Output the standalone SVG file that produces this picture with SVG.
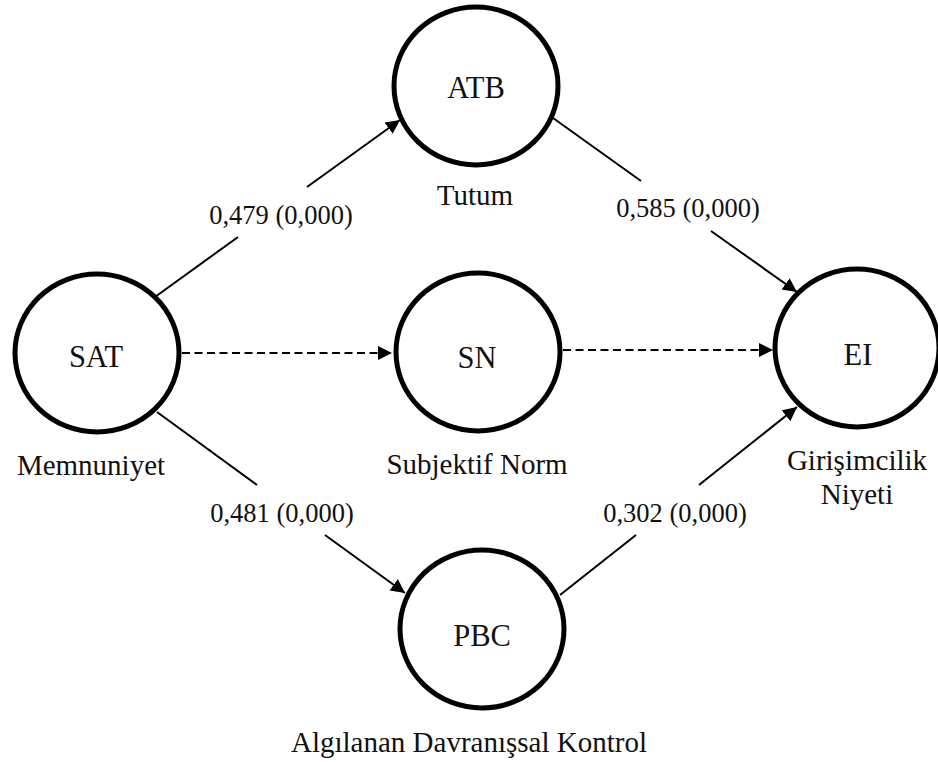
<svg xmlns="http://www.w3.org/2000/svg" width="938" height="762" viewBox="0 0 938 762">
<style>
  .t { font-family: "Liberation Serif", "Times New Roman", serif; fill: #111111; text-anchor: middle; }
  .nm { font-size: 30.5px; }
  .cap { font-size: 29px; }
  .lbl { font-size: 26.5px; }
  .node { fill: #ffffff; stroke: #000000; stroke-width: 5; }
  .edge { fill: none; stroke: #000000; stroke-width: 2; }
  .dash { stroke-dasharray: 8 4.5; }
</style>
<defs>
  <marker id="arr" markerUnits="userSpaceOnUse" markerWidth="16" markerHeight="16" refX="14" refY="7" orient="auto">
    <path d="M0,0 L14,7 L0,14 z" fill="#000000"/>
  </marker>
</defs>
<rect width="938" height="762" fill="#ffffff"/>

<g id="connectors">
  <path class="edge" d="M155,297 L238,237 M307,187 L400,120" marker-end="url(#arr)"/>
  <path class="edge" d="M553,118 L641,181 M711,231 L797,292" marker-end="url(#arr)"/>
  <path class="edge" d="M157,412 L257,485 M325,535 L405,593" marker-end="url(#arr)"/>
  <path class="edge" d="M560,595 L636,535 M699,485 L797,407" marker-end="url(#arr)"/>
  <path class="edge dash" d="M182,353 L392,353" marker-end="url(#arr)"/>
  <path class="edge dash" d="M563,350 L773,350" marker-end="url(#arr)"/>
  <text class="t lbl" x="281" y="224">0,479 (0,000)</text>
  <text class="t lbl" x="688" y="217">0,585 (0,000)</text>
  <text class="t lbl" x="282" y="522">0,481 (0,000)</text>
  <text class="t lbl" x="675" y="522">0,302 (0,000)</text>
</g>

<g id="ATB">
  <ellipse class="node" cx="476" cy="86" rx="82" ry="79"/>
  <text class="t nm" x="476" y="98">ATB</text>
  <text class="t cap" x="475" y="205">Tutum</text>
</g>
<g id="SAT">
  <ellipse class="node" cx="97" cy="353" rx="82" ry="79"/>
  <text class="t nm" x="96" y="367">SAT</text>
  <text class="t cap" x="91" y="475">Memnuniyet</text>
</g>
<g id="SN">
  <ellipse class="node" cx="478" cy="352" rx="82" ry="79"/>
  <text class="t nm" x="477" y="368">SN</text>
  <text class="t cap" x="477" y="474">Subjektif Norm</text>
</g>
<g id="EI">
  <ellipse class="node" cx="857" cy="348" rx="82" ry="79"/>
  <text class="t nm" x="858" y="365">EI</text>
  <text class="t cap" x="857" y="470">Girişimcilik</text>
  <text class="t cap" x="857" y="504">Niyeti</text>
</g>
<g id="PBC">
  <ellipse class="node" cx="482" cy="629" rx="82" ry="79"/>
  <text class="t nm" x="482" y="646">PBC</text>
  <text class="t cap" x="469" y="752">Algılanan Davranışsal Kontrol</text>
</g>
</svg>
